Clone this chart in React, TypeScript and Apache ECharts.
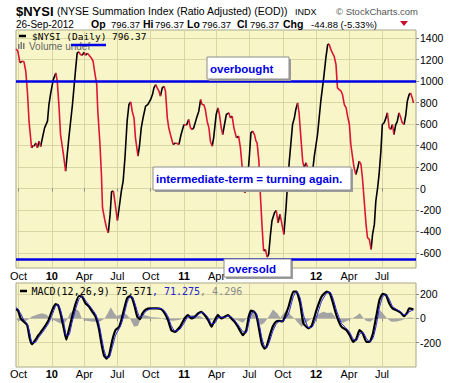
import React, { useEffect, useRef } from 'react';
import * as echarts from 'echarts';

// ---------- DATA ----------
const NYSI_DATES = [
  '2009-09-24','2009-09-29','2009-10-05','2009-10-10','2009-10-16','2009-10-21','2009-10-26','2009-10-30','2009-11-06','2009-11-10',
  '2009-11-13','2009-11-18','2009-11-22','2009-11-27','2009-12-01','2009-12-06','2009-12-12','2009-12-20','2009-12-24','2009-12-29',
  '2010-01-05','2010-01-12','2010-01-16','2010-01-21','2010-01-25','2010-02-02','2010-02-08','2010-02-17','2010-02-27','2010-03-08',
  '2010-03-12','2010-03-17','2010-03-21','2010-03-26','2010-03-31','2010-04-04','2010-04-09','2010-04-14','2010-04-20','2010-04-25',
  '2010-04-29','2010-05-05','2010-05-08','2010-05-14','2010-05-18','2010-05-21','2010-05-27','2010-06-01','2010-06-06','2010-06-11',
  '2010-06-15','2010-06-20','2010-06-24','2010-07-01','2010-07-06','2010-07-12','2010-07-17','2010-07-22','2010-07-28','2010-08-02',
  '2010-08-07','2010-08-11','2010-08-16','2010-08-20','2010-08-27','2010-08-31','2010-09-05','2010-09-10','2010-09-17','2010-09-23',
  '2010-10-01','2010-10-06','2010-10-10','2010-10-15','2010-10-19','2010-10-24','2010-10-28','2010-11-02','2010-11-07','2010-11-11',
  '2010-11-16','2010-11-20','2010-11-27','2010-12-02','2010-12-09','2010-12-18','2010-12-24','2011-01-01','2011-01-08','2011-01-14',
  '2011-01-19','2011-01-24','2011-01-28','2011-02-05','2011-02-11','2011-02-16','2011-02-20','2011-02-25','2011-03-01','2011-03-06',
  '2011-03-11','2011-03-15','2011-03-20','2011-03-24','2011-03-31','2011-04-05','2011-04-09','2011-04-14','2011-04-18','2011-04-23',
  '2011-04-28','2011-05-05','2011-05-09','2011-05-14','2011-05-19','2011-05-26','2011-06-01','2011-06-06','2011-06-11','2011-06-15',
  '2011-06-18','2011-06-23','2011-06-26','2011-07-01','2011-07-05','2011-07-10','2011-07-15','2011-07-19','2011-07-22','2011-07-27',
  '2011-07-31','2011-08-05','2011-08-09','2011-08-14','2011-08-19','2011-08-23','2011-08-28','2011-09-01','2011-09-08','2011-09-13',
  '2011-09-18','2011-09-23','2011-09-27','2011-10-04','2011-10-10','2011-10-14','2011-10-19','2011-10-28','2011-11-02','2011-11-06',
  '2011-11-11','2011-11-15','2011-11-20','2011-11-25','2011-11-29','2011-12-04','2011-12-08','2011-12-13','2011-12-18','2011-12-22',
  '2011-12-27','2012-01-05','2012-01-14','2012-01-22','2012-01-28','2012-02-02','2012-02-06','2012-02-11','2012-02-15','2012-02-20',
  '2012-02-25','2012-02-29','2012-03-05','2012-03-10','2012-03-14','2012-03-19','2012-03-24','2012-03-28','2012-04-02','2012-04-06',
  '2012-04-11','2012-04-15','2012-04-20','2012-04-25','2012-04-29','2012-05-04','2012-05-08','2012-05-13','2012-05-18','2012-05-22',
  '2012-05-27','2012-06-01','2012-06-05','2012-06-10','2012-06-14','2012-06-19','2012-06-23','2012-06-28','2012-07-02','2012-07-07',
  '2012-07-12','2012-07-16','2012-07-21','2012-07-25','2012-07-30','2012-08-03','2012-08-08','2012-08-12','2012-08-17','2012-08-22',
  '2012-08-26','2012-08-31','2012-09-05','2012-09-09','2012-09-14','2012-09-18','2012-09-23','2012-09-26'
];
const NYSI_VALUES = [
  1300,1280,1170,1185,1180,1092,875,627,379,400,
  395,425,380,440,390,472,565,627,782,890,
  1014,1076,998,751,503,317,162,472,782,1123,
  1262,1272,1247,1240,1270,1240,1260,1240,1216,1185,
  1092,968,720,410,131,-179,-288,-365,-412,-241,
  -30,-24,-117,-297,-179,-24,69,286,627,782,
  807,720,658,472,301,394,565,658,767,782,
  829,875,937,968,937,906,860,937,952,906,
  658,565,472,410,425,410,503,596,590,643,
  565,549,565,658,720,828,782,780,736,627,
  565,441,394,472,689,751,689,565,503,596,
  689,705,658,674,565,472,487,379,193,7,
  -40,20,100,317,518,534,500,441,425,255,
  -55,-365,-582,-567,-638,-613,-427,-303,-226,-205,
  -319,-241,-303,-427,-179,38,255,596,658,736,
  797,705,472,255,193,240,200,110,70,150,
  300,503,813,1030,1216,1340,1346,1293,1262,1231,
  1154,937,921,906,875,782,751,674,596,410,
  286,193,131,193,255,224,100,-117,-334,-458,
  -473,-567,-427,-334,-117,7,131,348,596,612,
  658,705,565,549,596,503,596,620,705,658,
  612,596,689,813,875,890,840,796
];

const MACD_DATES = [
  '2009-09-24','2009-09-29','2009-10-07','2009-10-16','2009-10-25','2009-11-01','2009-11-07','2009-11-16','2009-11-25','2009-12-09',
  '2009-12-23','2010-01-02','2010-01-11','2010-01-18','2010-01-25','2010-02-04','2010-02-10','2010-02-17','2010-02-26','2010-03-08',
  '2010-03-17','2010-03-26','2010-04-04','2010-04-14','2010-04-23','2010-05-02','2010-05-11','2010-05-18','2010-05-25','2010-06-01',
  '2010-06-08','2010-06-17','2010-06-26','2010-07-06','2010-07-12','2010-07-19','2010-07-28','2010-08-05','2010-08-11','2010-08-18',
  '2010-08-25','2010-09-02','2010-09-08','2010-09-18','2010-10-01','2010-10-17','2010-10-31','2010-11-09','2010-11-18','2010-11-27',
  '2010-12-07','2010-12-21','2011-01-03','2011-01-12','2011-01-21','2011-01-31','2011-02-09','2011-02-18','2011-02-27','2011-03-09',
  '2011-03-18','2011-03-27','2011-04-05','2011-04-14','2011-04-24','2011-05-03','2011-05-12','2011-05-21','2011-05-30','2011-06-13',
  '2011-06-22','2011-06-29','2011-07-05','2011-07-14','2011-07-21','2011-07-28','2011-08-04','2011-08-11','2011-08-17','2011-08-25',
  '2011-09-03','2011-09-12','2011-09-21','2011-09-30','2011-10-03','2011-10-17','2011-10-30','2011-11-08','2011-11-18','2011-11-27',
  '2011-12-11','2011-12-20','2012-01-02','2012-01-16','2012-01-30','2012-02-08','2012-02-17','2012-02-26','2012-03-11','2012-03-25',
  '2012-04-03','2012-04-12','2012-04-21','2012-04-30','2012-05-09','2012-05-19','2012-05-28','2012-06-06','2012-06-15','2012-06-24',
  '2012-07-03','2012-07-12','2012-07-21','2012-07-30','2012-08-13','2012-08-22','2012-08-31','2012-09-09','2012-09-14','2012-09-26'
];
const MACD_VALUES = [
  75,69,0,-28,-56,-167,-214,-181,-139,-83,
  -14,69,119,111,41,-97,-175,-97,14,125,
  186,180,125,97,55,14,-83,-209,-306,-334,
  -306,-181,-97,-69,-14,69,167,186,167,97,
  14,-5,41,75,83,83,75,41,-14,-97,
  -111,-69,0,28,0,14,41,55,28,-14,
  -69,-14,28,0,14,28,0,-28,-69,-139,
  -97,14,64,55,14,-97,-209,-250,-236,-153,
  -69,-28,-20,-25,-14,97,222,222,125,-42,
  -83,-60,69,180,222,210,125,28,-69,-97,
  -139,-194,-170,-97,-125,-194,-194,-125,14,153,
  203,195,125,83,64,47,19,50,83,76
];
const SIGNAL_VALUES = [
  90,80,40,-15,-45,-120,-200,-200,-160,-105,
  -40,30,100,118,70,-50,-140,-140,-30,80,
  160,185,150,110,75,35,-40,-150,-260,-320,
  -325,-240,-140,-85,-45,25,130,180,180,130,
  60,5,20,60,80,83,80,60,15,-60,
  -105,-90,-30,15,15,10,30,50,40,5,
  -45,-40,5,12,8,22,12,-15,-50,-110,
  -120,-40,30,60,35,-50,-160,-230,-245,-195,
  -110,-50,-25,-22,-20,40,180,225,170,30,
  -75,-75,10,140,210,218,165,70,-40,-85,
  -115,-170,-185,-130,-115,-165,-195,-165,-60,90,
  180,200,160,100,70,55,30,35,55,71
];

const HIST_DATES = [
  '2009-09-24','2009-09-28','2009-10-16','2009-10-27','2009-11-07','2009-11-24','2009-12-05','2009-12-18','2009-12-27','2010-01-10',
  '2010-01-25','2010-02-04','2010-02-12','2010-02-20','2010-03-07','2010-03-17','2010-03-25','2010-04-05','2010-04-27','2010-05-14',
  '2010-05-27','2010-06-04','2010-06-13','2010-06-21','2010-06-29','2010-07-10','2010-07-19','2010-07-27','2010-08-05','2010-08-16',
  '2010-08-27','2010-09-04','2010-09-12','2010-09-23','2010-10-04','2010-10-26','2010-11-11','2010-12-01','2010-12-21','2011-01-06',
  '2011-01-25','2011-02-14','2011-02-25','2011-03-14','2011-03-25','2011-04-04','2011-04-13','2011-04-27','2011-05-13','2011-05-29',
  '2011-06-13','2011-06-23','2011-07-04','2011-07-15','2011-07-23','2011-08-02','2011-08-11','2011-08-20','2011-09-04','2011-09-16',
  '2011-09-24','2011-10-03','2011-10-12','2011-10-22','2011-11-02','2011-11-10','2011-11-22','2011-12-02','2011-12-13','2011-12-27',
  '2012-01-10','2012-01-21','2012-02-01','2012-02-13','2012-02-23','2012-03-05','2012-03-16','2012-03-27','2012-04-10','2012-04-21',
  '2012-05-01','2012-05-10','2012-05-18','2012-05-29','2012-06-06','2012-06-15','2012-06-25','2012-07-04','2012-07-15','2012-07-27',
  '2012-08-11','2012-08-25','2012-09-08','2012-09-19','2012-09-26'
];
const HIST_VALUES = [
  0,-15,-28,-10,15,35,42,30,0,-20,
  -42,-42,-10,40,83,60,0,-20,-28,-25,
  0,40,92,50,20,30,45,30,0,-69,
  -60,0,28,20,10,5,-10,-20,-10,20,
  28,20,0,-20,0,42,10,-5,0,-15,
  -36,0,75,30,-10,-55,-35,0,75,40,
  5,40,69,30,0,-30,-69,-40,-15,10,
  40,55,45,50,10,-25,-36,-20,0,20,
  42,5,-20,-28,-10,30,69,40,0,-28,
  -25,-15,5,8,4
];

const TICK_DATES = ['2009-10-01','2010-01-01','2010-04-01','2010-07-01','2010-10-01','2011-01-01','2011-04-01','2011-07-01','2011-10-01','2012-01-01','2012-04-01','2012-07-01'];
const TICK_LABELS = ['Oct','10','Apr','Jul','Oct','11','Apr','Jul','Oct','12','Apr','Jul'];
// labels of the upper panel that the "oversold" note box covers in the original
const MAIN_LABELS_UNDER_BOX = ['2011-07-01','2011-10-01'];
const MAIN_Y_TICKS = [-600,-400,-200,0,200,400,600,800,1000,1200,1400];
const MACD_Y_TICKS = [-200,0,200];
const OVERBOUGHT = 1000;
const OVERSOLD = -655;
const X_START = '2009-09-24';
const X_END = '2012-10-03';

// ---------- helpers ----------
const toTs = (s: string) => {
  const [y, m, d] = s.split('-').map(Number);
  return Date.UTC(y, m - 1, d);
};
const TICK_TS = TICK_DATES.map(toTs);
const HIDDEN_TS = MAIN_LABELS_UNDER_BOX.map(toTs);

const nearestTick = (v: number) => {
  let best = -1;
  let bd = Infinity;
  TICK_TS.forEach((t, i) => {
    const d = Math.abs(t - v);
    if (d < bd) { bd = d; best = i; }
  });
  return bd > 86400000 * 2 ? -1 : best;
};

const labelFor = (v: number, hideCovered: boolean) => {
  const i = nearestTick(v);
  if (i < 0) return '';
  if (hideCovered && HIDDEN_TS.indexOf(TICK_TS[i]) >= 0) return '';
  const lab = TICK_LABELS[i];
  return /^\d+$/.test(lab) ? `{b|${lab}}` : lab;
};

const SANS = '"Liberation Sans", Arial, sans-serif';
const MONO = '"DejaVu Sans Mono", "Liberation Mono", monospace';
const PLOT_BG = '#F8F6C8';
const GRID_C = '#D8D6A4';
const BORDER_C = '#A8A888';
const BLUE = '#0000E6';
const RED = '#DC1436';

export default function App() {
  const ref = useRef<HTMLDivElement>(null);

  useEffect(() => {
    if (!ref.current) return;
    const chart = echarts.init(ref.current, undefined, { renderer: 'svg' });

    const ts = NYSI_DATES.map(toTs);
    const up: any[] = [];
    const down: any[] = [];
    for (let i = 0; i < ts.length - 1; i++) {
      const a = [ts[i], NYSI_VALUES[i]];
      const b = [ts[i + 1], NYSI_VALUES[i + 1]];
      const target = NYSI_VALUES[i + 1] >= NYSI_VALUES[i] ? up : down;
      const last = target[target.length - 1];
      if (!last || last[0] !== a[0] || last[1] === '-') {
        if (last) target.push([a[0], '-']);
        target.push(a);
      }
      target.push(b);
    }

    const macdTs = MACD_DATES.map(toTs);
    const macdData = macdTs.map((t, i) => [t, MACD_VALUES[i]]);
    const sigData = macdTs.map((t, i) => [t, SIGNAL_VALUES[i]]);
    const histData = HIST_DATES.map((d, i) => [toTs(d), HIST_VALUES[i]]);

    const xAxisBase = (grid: number, margin: number, hideCovered: boolean) => ({
      type: 'value',
      gridIndex: grid,
      min: toTs(X_START),
      max: toTs(X_END),
      axisLine: { show: false },
      axisTick: { show: true, customValues: TICK_TS, length: 3, lineStyle: { color: '#888' } },
      axisLabel: {
        customValues: TICK_TS,
        formatter: (v: number) => labelFor(v, hideCovered),
        margin,
        fontSize: 11,
        fontFamily: SANS,
        color: '#000',
        rich: { b: { fontWeight: 'bold', fontSize: 11, fontFamily: SANS, color: '#000' } },
      },
      splitLine: { show: true, lineStyle: { color: GRID_C, width: 1 } },
    });

    const yAxisBase = (grid: number, min: number, max: number, ticks: number[]) => ({
      type: 'value',
      gridIndex: grid,
      position: 'right',
      min,
      max,
      axisLine: { show: false },
      axisTick: { show: true, customValues: ticks, length: 3, lineStyle: { color: '#888' } },
      axisLabel: {
        customValues: ticks, margin: 4, fontSize: 10.5, fontFamily: SANS, color: '#000',
        formatter: (v: number) => String(Math.round(v)),
      },
      splitLine: { show: true, lineStyle: { color: GRID_C, width: 1 } },
    });

    const txt = (x: number, y: number, text: string, font: string, fill = '#000', extra: any = {}) => ({
      type: 'text',
      x,
      y,
      z: 100,
      silent: true,
      style: { text, font, fill, textAlign: 'left', textVerticalAlign: 'middle', ...extra },
    });

    const box = (x: number, y: number, w: number, h: number, label: string, tx: number) => ([
      { type: 'rect', z: 98, silent: true, shape: { x: x + 2, y: y + 2, width: w, height: h }, style: { fill: '#9C9C9C' } },
      { type: 'rect', z: 99, silent: true, shape: { x, y, width: w, height: h }, style: { fill: '#FFFFFF', stroke: '#8C8C8C', lineWidth: 1 } },
      txt(tx, y + h / 2 + 0.5, label, `bold 11.5px ${SANS}`, BLUE),
    ]);

    const graphic: any[] = [
      txt(16, 11, '$NYSI', `bold 13px ${SANS}`),
      txt(57, 11, '(NYSE Summation Index (Ratio Adjusted) (EOD))', `10.5px ${SANS}`),
      txt(295, 11.5, 'INDX', `9px ${SANS}`),
      txt(336, 11.5, '\u00A9 StockCharts.com', `9.5px ${SANS}`, '#555'),
      txt(16, 24, '26-Sep-2012', `10px ${SANS}`),
      txt(91, 24, 'Op', `bold 10.5px ${SANS}`),
      txt(111, 24, '796.37', `9.5px ${SANS}`),
      txt(143, 24, 'Hi', `bold 10.5px ${SANS}`),
      txt(155, 24, '796.37', `9.5px ${SANS}`),
      txt(187, 24, 'Lo', `bold 10.5px ${SANS}`),
      txt(202, 24, '796.37', `9.5px ${SANS}`),
      txt(237, 24, 'Cl', `bold 10.5px ${SANS}`),
      txt(250, 24, '796.37', `9.5px ${SANS}`),
      txt(283, 24, 'Chg', `bold 10.5px ${SANS}`),
      txt(311, 24, '-44.88 (-5.33%)', `9.5px ${SANS}`),
      { type: 'polygon', z: 100, silent: true, shape: { points: [[400, 21], [408, 21], [404, 26]] }, style: { fill: '#C8102E' } },
      // main legend
      { type: 'line', z: 100, silent: true, shape: { x1: 19, y1: 36, x2: 26, y2: 36 }, style: { stroke: '#000', lineWidth: 2.5 } },
      txt(32, 36, '$NYSI (Daily) 796.37', `9.5px ${MONO}`),
      { type: 'rect', z: 100, silent: true, shape: { x: 18, y: 44, width: 1.5, height: 5 }, style: { fill: '#777' } },
      { type: 'rect', z: 100, silent: true, shape: { x: 20.5, y: 42, width: 1.5, height: 7 }, style: { fill: '#777' } },
      { type: 'rect', z: 100, silent: true, shape: { x: 23, y: 43, width: 1.5, height: 6 }, style: { fill: '#777' } },
      txt(29, 46.5, 'Volume undef', `10px ${SANS}`, '#666'),
      { type: 'line', z: 101, silent: true, shape: { x1: 71, y1: 45, x2: 106, y2: 45 }, style: { stroke: BLUE, lineWidth: 2.5 } },
      ...box(207, 57, 82, 22, 'overbought', 210),
      ...box(153, 167, 198, 23, 'intermediate-term = turning again.', 156),
      ...box(224, 259, 67, 18, 'oversold', 228),
      // MACD legend
      { type: 'line', z: 100, silent: true, shape: { x1: 20, y1: 291, x2: 27, y2: 291 }, style: { stroke: '#000', lineWidth: 2.5 } },
      {
        type: 'text', x: 31.5, y: 291, z: 100, silent: true,
        style: {
          text: '{k|MACD(12,26,9) 75.571}{s|, 71.275}{g|, 4.296}',
          textAlign: 'left', textVerticalAlign: 'middle',
          font: `10px ${MONO}`,
          rich: {
            k: { fill: '#000', font: `10px ${MONO}` },
            s: { fill: '#2020D0', font: `10px ${MONO}` },
            g: { fill: '#8A8A8A', font: `10px ${MONO}` },
          },
        },
      },
    ];

    chart.setOption({
      animation: false,
      backgroundColor: '#FFFFFF',
      grid: [
        { left: 16, top: 30, width: 400, height: 238, show: true, backgroundColor: PLOT_BG, borderColor: BORDER_C, borderWidth: 1 },
        { left: 16, top: 283, width: 400, height: 84, show: true, backgroundColor: PLOT_BG, borderColor: BORDER_C, borderWidth: 1 },
      ],
      xAxis: [xAxisBase(0, 2, true), xAxisBase(1, 1, false)],
      yAxis: [
        yAxisBase(0, -740, 1476, MAIN_Y_TICKS),
        yAxisBase(1, -403, 294, MACD_Y_TICKS),
      ],
      series: [
        {
          name: 'NYSI up', type: 'line', xAxisIndex: 0, yAxisIndex: 0, data: up,
          showSymbol: false, connectNulls: false, lineStyle: { color: '#000', width: 1.6 }, z: 3,
          markLine: {
            silent: true, symbol: 'none', label: { show: false },
            lineStyle: { color: BLUE, width: 2.5, type: 'solid' },
            data: [{ yAxis: OVERBOUGHT }, { yAxis: OVERSOLD }],
          },
        },
        {
          name: 'NYSI down', type: 'line', xAxisIndex: 0, yAxisIndex: 0, data: down,
          showSymbol: false, connectNulls: false, lineStyle: { color: RED, width: 1.6 }, z: 3,
        },
        {
          name: 'Histogram', type: 'line', xAxisIndex: 1, yAxisIndex: 1, data: histData,
          showSymbol: false, lineStyle: { width: 0, color: '#A4A4A4' }, areaStyle: { color: '#A4A4A4', opacity: 1, origin: 0 }, z: 2,
        },
        {
          name: 'MACD', type: 'line', xAxisIndex: 1, yAxisIndex: 1, data: macdData, smooth: 0.15,
          showSymbol: false, lineStyle: { color: '#000', width: 2.2 }, z: 3,
        },
        {
          name: 'Signal', type: 'line', xAxisIndex: 1, yAxisIndex: 1, data: sigData, smooth: 0.15,
          showSymbol: false, lineStyle: { color: '#2020E0', width: 1 }, z: 4,
        },
      ],
      graphic,
    });

    return () => chart.dispose();
  }, []);

  return <div ref={ref} style={{ position: 'fixed', left: 0, top: 0, width: 460, height: 383 }} />;
}
